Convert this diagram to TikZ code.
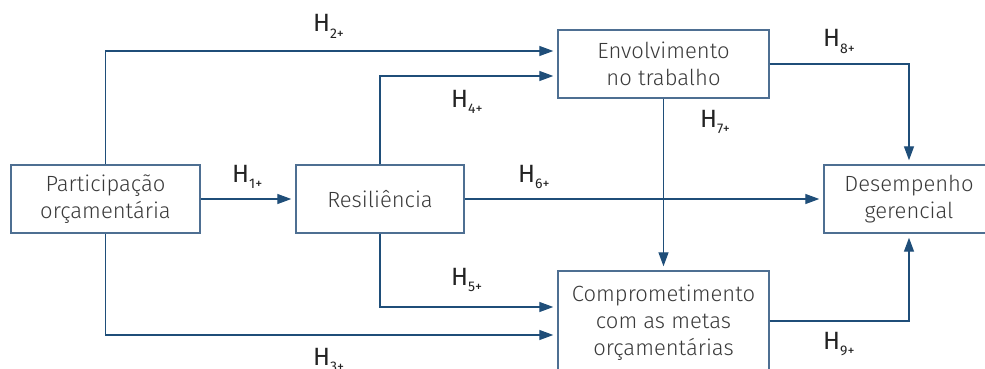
\documentclass[tikz,border=0pt]{standalone}
\usepackage{fontspec}
\setmainfont{Fira Sans Light}
\newfontfamily\labfont{Fira Sans}
\usetikzlibrary{arrows.meta}
\definecolor{lineblue}{HTML}{1F4E79}
\definecolor{boxblue}{HTML}{4E6F92}
\definecolor{txtgray}{HTML}{3A3A3A}
\definecolor{labgray}{HTML}{222222}
\newcommand\hsub[1]{\raisebox{-6.5pt}{\fontsize{14}{14}\selectfont #1}}
\tikzset{
  varbox/.style={draw=boxblue, line width=1.4pt, rectangle, align=center, text=txtgray,
    font=\fontsize{22}{27}\selectfont, inner sep=0pt},
  arr/.style={draw=lineblue, line width=1.3pt, -{Triangle[length=14pt,width=10pt]}, shorten >=4pt},
  hl/.style={anchor=base west, text=labgray, font=\labfont\fontsize{25}{28}\selectfont, inner sep=0pt}
}
\begin{document}
\begin{tikzpicture}[x=1pt,y=-1pt]
\useasboundingbox (0,0) rectangle (985,369);
\node[varbox, minimum width=189pt, minimum height=68pt] (part) at (105.5,199) {Participação\\orçamentária};
\node[varbox, minimum width=168pt, minimum height=68pt] (resil) at (380,199) {Resiliência};
\node[varbox, minimum width=211pt, minimum height=68pt] (env) at (663.5,64) {Envolvimento\\no trabalho};
\node[varbox, minimum width=170pt, minimum height=68pt] (desemp) at (909,199) {Desempenho\\gerencial};
\node[varbox, minimum width=211pt, minimum height=104pt, yshift=-1pt] (comp) at (663.5,322) {Comprometimento\\com as metas\\orçamentárias};
% connectors
\draw[arr] (part.east) -- (resil.west);
\draw[arr] (part.north) |- ([yshift=13pt]env.west);
\draw[arr] (resil.north) |- ([yshift=-12pt]env.west);
\draw[arr] (part.south) |- ([yshift=-12pt]comp.west);
\draw[arr] (resil.south) |- ([yshift=16pt]comp.west);
\draw[arr] (resil.east) -- (desemp.west);
\draw[arr] (env.south) -- (comp.north);
\draw[arr] (env.east) -| (desemp.north);
\draw[arr] ([yshift=2pt]comp.east) -| (desemp.south);
% labels
\node[hl] (h1) at (232,182) {H\hsub{1+}};
\node[hl] (h2) at (313,32) {H\hsub{2+}};
\node[hl] (h3) at (313,365) {H\hsub{3+}};
\node[hl] (h4) at (451,107) {H\hsub{4+}};
\node[hl] (h5) at (451,285) {H\hsub{5+}};
\node[hl] (h6) at (518,182) {H\hsub{6+}};
\node[hl] (h7) at (700,127) {H\hsub{7+}};
\node[hl] (h8) at (823,47) {H\hsub{8+}};
\node[hl] (h9) at (823,349) {H\hsub{9+}};
\end{tikzpicture}
\end{document}
